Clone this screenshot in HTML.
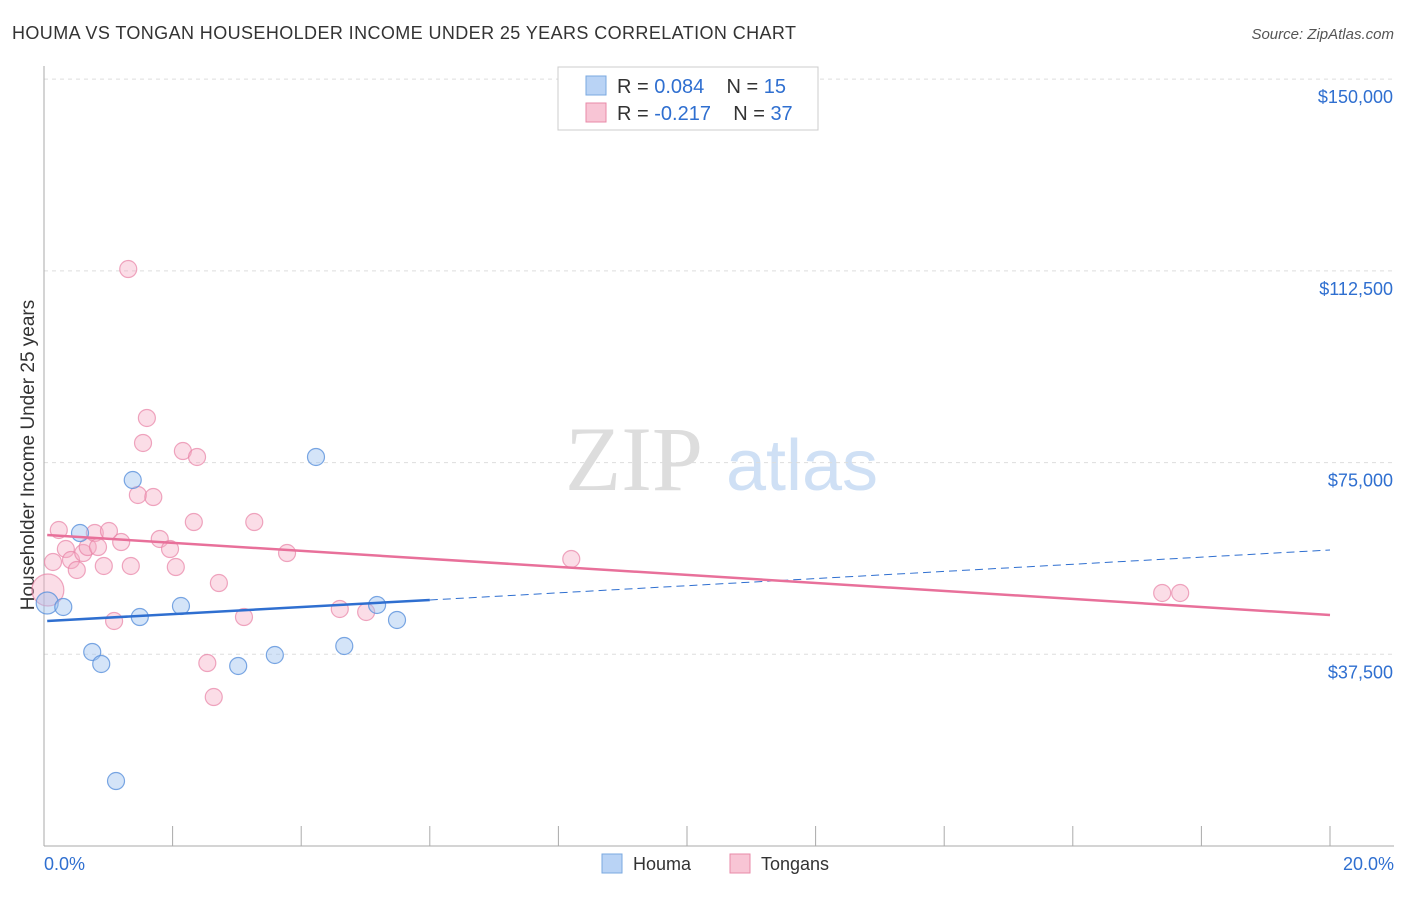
<!DOCTYPE html>
<html><head><meta charset="utf-8"><style>
body{margin:0;background:#fff;font-family:"Liberation Sans",sans-serif}
</style></head><body>
<svg id="c" width="1406" height="892" xmlns="http://www.w3.org/2000/svg">
<text x="12" y="39" font-size="18" fill="#333" textLength="784">HOUMA VS TONGAN HOUSEHOLDER INCOME UNDER 25 YEARS CORRELATION CHART</text>
<text x="1394" y="39" font-size="15" fill="#555" text-anchor="end" font-style="italic">Source: ZipAtlas.com</text>
<text x="634" y="490" font-size="92" fill="#ddd" font-family="Liberation Serif,serif" text-anchor="middle">ZIP</text>
<text x="802" y="490" font-size="72" fill="#cfe0f5" text-anchor="middle">atlas</text>
<text transform="translate(34,455) rotate(-90)" font-size="19" fill="#333" text-anchor="middle">Householder Income Under 25 years</text>
<g id="grid"></g><g id="pts"></g><g id="lines"></g>
<g>
<rect x="558" y="67" width="260" height="63" fill="#fff" stroke="#ccc"/>
<rect x="586" y="76" width="20" height="19" fill="#b9d3f5" stroke="#7aa8e0"/>
<rect x="586" y="103" width="20" height="19" fill="#f8c5d5" stroke="#e88aa8"/>
<text x="617" y="93" font-size="20" fill="#333" xml:space="preserve">R = <tspan fill="#2f6fd0">0.084</tspan>    N = <tspan fill="#2f6fd0">15</tspan></text>
<text x="617" y="120" font-size="20" fill="#333" xml:space="preserve">R = <tspan fill="#2f6fd0">-0.217</tspan>    N = <tspan fill="#2f6fd0">37</tspan></text>
</g>
<g>
<rect x="602" y="854" width="20" height="19" fill="#b9d3f5" stroke="#7aa8e0"/>
<text x="633" y="870" font-size="18" fill="#333">Houma</text>
<rect x="730" y="854" width="20" height="19" fill="#f8c5d5" stroke="#e88aa8"/>
<text x="761" y="870" font-size="18" fill="#333">Tongans</text>
</g>
<text x="44" y="870" font-size="18" fill="#2f6fd0">0.0%</text>
<text x="1394" y="870" font-size="18" fill="#2f6fd0" text-anchor="end">20.0%</text>
</svg>
<script>
const yTicks=[37500,75000,112500,150000];
const yTickLabels=["$37,500","$75,000","$112,500","$150,000"];
const houmaX=[0.05,0.30,0.56,0.75,0.89,1.12,1.38,1.49,2.13,3.02,3.59,4.23,4.67,5.18,5.49];
const houmaY=[47530,46750,61220,37950,35600,12710,71590,44790,46940,35210,37360,76090,39120,47140,44210];
const tonganX=[0.06,0.14,0.23,0.34,0.42,0.51,0.61,0.68,0.79,0.84,0.93,1.01,1.09,1.20,1.31,1.35,1.46,1.54,1.60,1.70,1.80,1.96,2.05,2.16,2.33,2.38,2.54,2.64,2.72,3.11,3.27,3.78,4.60,5.01,8.20,17.39,17.67];
const tonganY=[50070,55550,61810,58090,55940,53990,57310,58480,61220,58480,54770,61610,44010,59460,112860,54770,68660,78830,83720,68260,60050,58090,54570,77260,63370,76090,35790,29140,51440,44790,63370,57310,46360,45770,56140,49490,49490];
const houmaTrend=[44010,48120,57900];
const tonganTrend=[60830,45180];
const X=v=>44+v*64.3, Y=v=>846-v/195.6;
const NS="http://www.w3.org/2000/svg";
function mk(p,t,a){const e=document.createElementNS(NS,t);for(const k in a)e.setAttribute(k,a[k]);p.appendChild(e);return e;}
const grid=document.getElementById('grid');
yTicks.forEach((t,i)=>{
 const l=mk(grid,'line',{x1:44,x2:1394,y1:Y(t),y2:Y(t),stroke:'#ddd','stroke-dasharray':'4,4'});
 
 
 const tx=mk(grid,'text',{x:1393,y:Y(t)+24,'font-size':18,fill:'#2f6fd0','text-anchor':'end'});
 tx.textContent=yTickLabels[i];
 
 
});
mk(grid,'line',{x1:44,x2:44,y1:66,y2:846,stroke:'#aaa'});
mk(grid,'line',{x1:44,x2:1394,y1:846,y2:846,stroke:'#aaa'});
for(let i=0;i<=10;i++){const l=mk(grid,'line',{x1:X(i*2),x2:X(i*2),y1:826,y2:846,stroke:'#aaa'});
 
 }
const pts=document.getElementById('pts');
tonganX.forEach((x,i)=>{const c=mk(pts,'circle',{cx:X(x),cy:Y(tonganY[i]),r:i==0?16:8.5,fill:'rgba(244,170,196,0.4)',stroke:'rgba(232,130,165,0.7)','stroke-width':1.2});
 
 });
houmaX.forEach((x,i)=>{const c=mk(pts,'circle',{cx:X(x),cy:Y(houmaY[i]),r:i==0?11:8.5,fill:'rgba(160,195,240,0.45)',stroke:'rgba(90,145,220,0.8)','stroke-width':1.2});
 
 });
const ln=document.getElementById('lines');
let a=mk(ln,'line',{x1:X(0.05),y1:Y(houmaTrend[0]),x2:X(6),y2:Y(houmaTrend[1]),stroke:'#2f6fd0','stroke-width':2.5});


a=mk(ln,'line',{x1:X(6),y1:Y(houmaTrend[1]),x2:X(20),y2:Y(houmaTrend[2]),stroke:'#2f6fd0','stroke-width':1,'stroke-dasharray':'8,5'});


a=mk(ln,'line',{x1:X(0.05),y1:Y(tonganTrend[0]),x2:X(20),y2:Y(tonganTrend[1]),stroke:'#e8709a','stroke-width':2.5});


</script>
</body></html>
